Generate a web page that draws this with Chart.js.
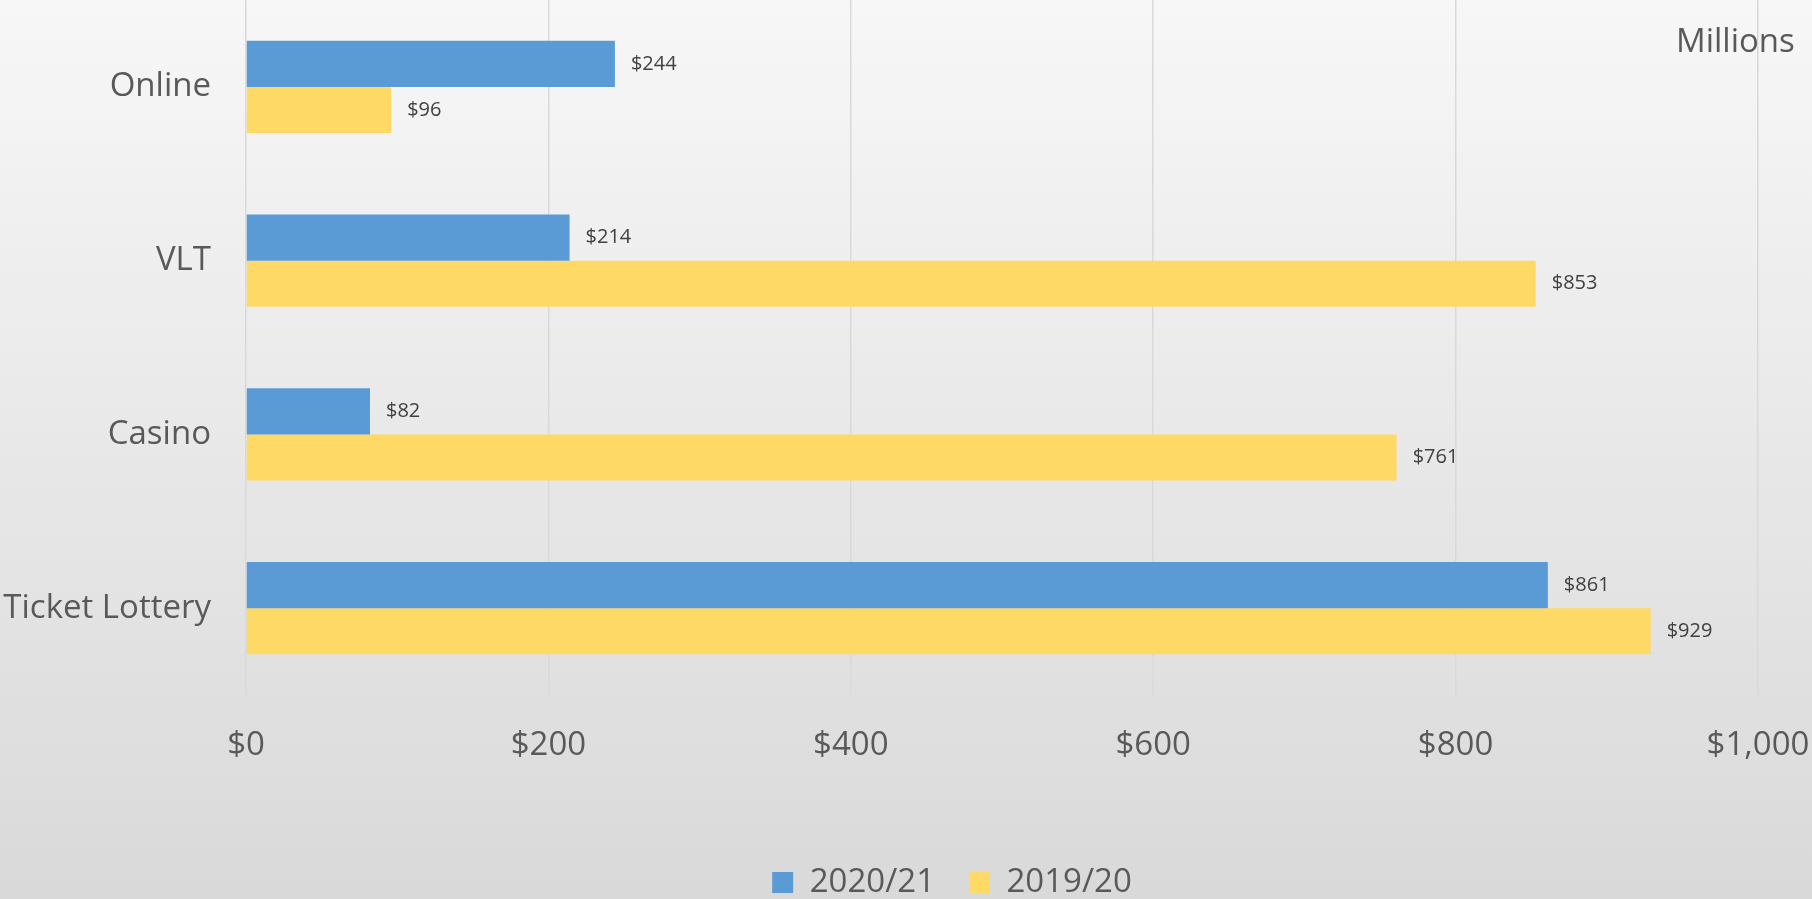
<!DOCTYPE html>
<html>
<head>
<meta charset="utf-8">
<script src="https://cdn.jsdelivr.net/npm/chart.js@4/dist/chart.umd.min.js"></script>
<style>
  html, body { margin: 0; padding: 0; background: #e8e8e8; }
  #wrap { width: 1812px; height: 899px; position: relative; }
</style>
</head>
<body>
<div id="wrap"><canvas id="c" width="1812" height="899"></canvas></div>
<script>
const categories = ['Online', 'VLT', 'Casino', 'Ticket Lottery'];
const seriesLabels = ['2020/21', '2019/20'];
const values2021 = [244, 214, 82, 861];
const values1920 = [96, 853, 761, 929];
const xMin = 0, xMax = 1000, xStep = 200;
const unitLabel = 'Millions';

const FONT = "'Open Sans', 'Noto Sans', sans-serif";
const TEXT = '#595959';

const bgPlugin = {
  id: 'bg',
  beforeDraw(chart) {
    const ctx = chart.ctx;
    const g = ctx.createLinearGradient(0, 0, 0, chart.height);
    g.addColorStop(0, '#f7f7f7');
    g.addColorStop(1, '#d9d9d9');
    ctx.save();
    ctx.fillStyle = g;
    ctx.fillRect(0, 0, chart.width, chart.height);
    ctx.restore();
  }
};

const legendShift = {
  id: 'legendShift',
  afterLayout(chart) {
    if (chart.legend) {
      chart.legend.left -= 50;
      chart.legend.right -= 50;
    }
  }
};

const labelPlugin = {
  id: 'valueLabels',
  afterDatasetsDraw(chart) {
    const ctx = chart.ctx;
    ctx.save();
    ctx.font = "20px " + FONT;
    ctx.fillStyle = '#404040';
    ctx.textAlign = 'left';
    ctx.textBaseline = 'middle';
    chart.data.datasets.forEach((ds, di) => {
      const meta = chart.getDatasetMeta(di);
      meta.data.forEach((el, i) => {
        ctx.fillText('$' + ds.data[i].toLocaleString('en-US'), el.x + 16, el.y);
      });
    });
    ctx.font = "33px " + FONT;
    ctx.fillStyle = TEXT;
    ctx.textBaseline = 'alphabetic';
    ctx.fillText(unitLabel, 1676, 52);
    ctx.restore();
  }
};

new Chart(document.getElementById('c'), {
  type: 'bar',
  data: {
    labels: categories,
    datasets: [
      { label: seriesLabels[0], data: values2021, backgroundColor: '#5B9BD5', borderWidth: 0,
        categoryPercentage: 0.53, barPercentage: 1.0 },
      { label: seriesLabels[1], data: values1920, backgroundColor: '#FFD966', borderWidth: 0,
        categoryPercentage: 0.53, barPercentage: 1.0 }
    ]
  },
  options: {
    indexAxis: 'y',
    responsive: false,
    animation: false,
    devicePixelRatio: 1,
    layout: { padding: { left: 0, right: 54, top: 0, bottom: -10 } },
    scales: {
      x: {
        min: xMin, max: xMax,
        ticks: { stepSize: xStep, padding: 31, color: TEXT, font: { family: FONT, size: 33 },
          callback: v => '$' + Number(v).toLocaleString('en-US'), maxRotation: 0 },
        grid: { color: '#d9d9d9', lineWidth: 1.5, drawTicks: false },
        border: { display: false },
        afterFit(scale) { scale.height = 137; scale.paddingLeft = 0; scale.paddingRight = 0; }
      },
      y: {
        ticks: { padding: 35, color: TEXT, font: { family: FONT, size: 33 } },
        grid: { display: false, drawTicks: false },
        border: { display: false },
        afterFit(scale) { scale.width = 246; scale.paddingTop = 0; scale.paddingBottom = 0; }
      }
    },
    plugins: {
      legend: {
        position: 'bottom',
        fullSize: false,
        labels: { boxWidth: 21, boxHeight: 21, padding: 34, color: TEXT, font: { family: FONT, size: 33 } }
      },
      tooltip: { enabled: false }
    }
  },
  plugins: [bgPlugin, legendShift, labelPlugin]
});
</script>
</body>
</html>
